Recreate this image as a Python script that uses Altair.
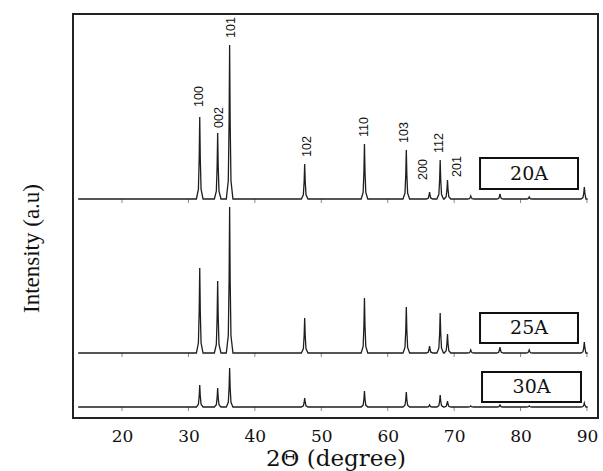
import altair as alt
import pandas as pd

# ---- data ----
two_theta = [31.7, 34.4, 36.2, 47.5, 56.5, 62.8, 66.3, 67.9, 69.0, 72.5, 76.9, 81.3, 89.6]
samples = ["20A", "25A", "30A"]
baseline_offset = [219, 65, 11]
heights_20A = [82, 66, 154, 35, 55, 49, 7, 39, 19, 3, 5, 2, 12]
heights_25A = [85, 72, 146, 35, 55, 46, 7, 40, 19, 3, 6, 3, 11]
heights_30A = [22, 19, 39, 9, 16, 15, 2, 12, 6, 1, 2, 1, 4]
scan_start, scan_end = 13.4, 89.85

hkl = ["100", "002", "101", "102", "110", "103", "200", "112", "201"]
hkl_x = [31.55, 34.55, 36.35, 47.8, 56.5, 62.5, 65.3, 67.75, 70.5]
hkl_y = [311, 290, 380, 261, 281, 275, 238, 265, 241]

x_ticks = [20, 30, 40, 50, 60, 70, 80, 90]

# ---- peak profile shape (style) ----
shape_dx = [-0.5, -0.2, -0.08, 0.0, 0.08, 0.2, 0.5]
shape_f = [0.0, 0.12, 0.5, 1.0, 0.5, 0.12, 0.0]

rows = []
for s, off, hs in zip(samples, baseline_offset, [heights_20A, heights_25A, heights_30A]):
    pts = [(scan_start, off), (scan_end, off)]
    for p, h in zip(two_theta, hs):
        for dx, f in zip(shape_dx, shape_f):
            pts.append((p + dx, off + f * h))
    pts.sort()
    for i, (x, y) in enumerate(pts):
        rows.append({"sample": s, "x": x, "y": y, "order": i})
traces = pd.DataFrame(rows)

tick_rows = [{"sample": s, "x": t, "y": off, "y2": off - 4}
             for s, off in zip(samples, baseline_offset) for t in x_ticks]
ticks = pd.DataFrame(tick_rows)

labels = pd.DataFrame({"hkl": hkl, "x": hkl_x, "y": hkl_y})

boxes = pd.DataFrame({
    "name": samples,
    "x": [73.9, 73.9, 74.2],
    "x2": [88.65, 88.65, 89.1],
    "y": [229, 75, 16],
    "y2": [260, 105, 46],
})
boxes["xc"] = (boxes["x"] + boxes["x2"]) / 2
boxes["yc"] = (boxes["y"] + boxes["y2"]) / 2

xscale = alt.Scale(domain=[12.62, 91.66], nice=False, zero=False)
yscale = alt.Scale(domain=[0, 404], nice=False, zero=False)

xaxis = alt.Axis(values=x_ticks, grid=False, domain=False, ticks=False,
                 labelFont="DejaVu Serif", labelFontSize=17, labelColor="#111",
                 labelPadding=10, title="2Θ (degree)", titleFont="DejaVu Serif",
                 titleFontSize=23, titleFontWeight="normal", titleColor="#111",
                 titlePadding=3)
yaxis = alt.Axis(labels=False, ticks=False, domain=False, grid=False,
                 title="Intensity (a.u)", titleFont="Liberation Serif",
                 titleFontSize=23, titleFontWeight="normal", titleColor="#111",
                 titlePadding=30, titleY=234)

lines = alt.Chart(traces).mark_line(color="#1e1e1e", strokeWidth=1.3).encode(
    x=alt.X("x:Q", scale=xscale, axis=xaxis),
    y=alt.Y("y:Q", scale=yscale, axis=yaxis),
    detail="sample:N",
    order="order:Q",
)

tick_marks = alt.Chart(ticks).mark_rule(color="#888", strokeWidth=1).encode(
    x="x:Q", y="y:Q", y2="y2:Q"
)

peak_text = alt.Chart(labels).mark_text(
    angle=270, align="left", baseline="middle", font="Liberation Sans",
    fontSize=12.5, color="#111"
).encode(x="x:Q", y="y:Q", text="hkl:N")

box_rect = alt.Chart(boxes).mark_rect(fill="white", stroke="#111", strokeWidth=2).encode(
    x="x:Q", x2="x2:Q", y="y:Q", y2="y2:Q"
)
box_text = alt.Chart(boxes).mark_text(
    font="DejaVu Serif", fontSize=19, color="#111", baseline="middle", align="center"
).encode(x="xc:Q", y="yc:Q", text="name:N")

chart = alt.layer(tick_marks, lines, peak_text, box_rect, box_text).properties(
    width=525, height=404,
    autosize=alt.AutoSizeParams(type="none"),
    padding={"left": 73, "top": 14, "right": 5, "bottom": 53},
).configure_view(stroke="#222", strokeWidth=2)

chart.save("out.html", embed_options={"renderer": "svg", "actions": False})
